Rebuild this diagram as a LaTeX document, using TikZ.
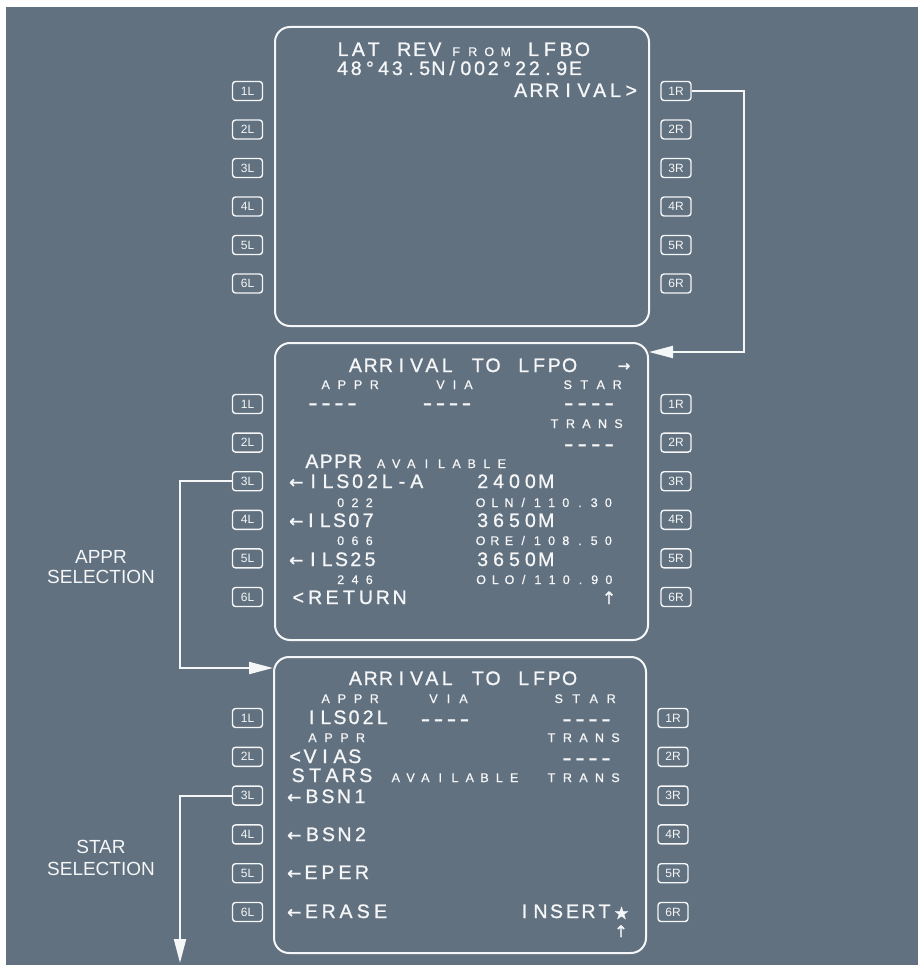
\documentclass[tikz,border=0pt]{standalone}
\usepackage{fontspec}
\usepackage{graphicx}
\setmainfont{Liberation Sans}
\newfontfamily\lcdbigfam[FakeBold=1.1]{Liberation Sans}
\newfontfamily\lcdsmallfam[FakeBold=0.8]{Liberation Sans}
\newfontfamily\symfam[FakeBold=1.5]{DejaVu Sans}
\newcommand\lcdbig{\lcdbigfam\fontsize{19.5}{19.5}\selectfont}
\newcommand\lcdsmall{\lcdsmallfam\fontsize{12.5}{12.5}\selectfont}
\ExplSyntaxOn
\NewDocumentCommand\cellrow{mm}{\str_map_inline:nn {#2} {\makebox[#1pt][c]{##1}}}
\ExplSyntaxOff
\newcommand\lcddash[1]{\makebox[#1pt][c]{\scalebox{1.45}[1.1]{-}}}
\newcommand\dashrow[1]{\lcddash{#1}\lcddash{#1}\lcddash{#1}\lcddash{#1}}
\usetikzlibrary{arrows.meta}
\definecolor{panel}{RGB}{98,113,127}
\definecolor{ink}{RGB}{244,246,248}
\tikzset{
  lcdB/.style={anchor=base, inner sep=0pt, text=ink, font=\lcdbig, text height=14pt, text depth=1pt},
  lcdS/.style={anchor=base, inner sep=0pt, text=ink, font=\lcdsmall, text height=9pt, text depth=0.5pt},
  symb/.style={anchor=base, inner sep=0pt, text=ink, font=\symfam\fontsize{#1}{#1}\selectfont},
  keybox/.style={draw=ink, line width=1.4pt, rounded corners=3pt, minimum width=30pt, minimum height=19pt, inner sep=0pt, text=ink, font=\fontsize{12}{12}\selectfont},
  screen/.style={draw=ink, line width=2pt, rounded corners=15pt, inner sep=0pt},
  conn/.style={draw=ink, line width=2pt, -{Triangle[length=24pt,width=12pt]}},
  lbl/.style={anchor=base, inner sep=0pt, text=ink, font=\fontsize{19}{19}\selectfont}
}
\begin{document}
\begin{tikzpicture}[x=1pt,y=-1pt]
\path[use as bounding box] (0,0) rectangle (918,965);
\fill[white] (0,0) rectangle (918,965);
\fill[panel] (6,7) rectangle (918,965);

% screens
\node[screen, minimum width=374pt, minimum height=299pt] (s1) at (462,176.5) {};
\node[screen, minimum width=373pt, minimum height=297pt] (s2) at (461.5,491.5) {};
\node[screen, minimum width=372pt, minimum height=296pt] (s3) at (460,805) {};

% keys
\foreach \i in {1,...,6} {
  \node[keybox] (aL\i) at (247.5,{91+38.5*(\i-1)}) {\i L};
  \node[keybox] (aR\i) at (676,{91+38.5*(\i-1)}) {\i R};
  \node[keybox] (bL\i) at (247.5,{404+38.6*(\i-1)}) {\i L};
  \node[keybox] (bR\i) at (676,{404+38.6*(\i-1)}) {\i R};
  \node[keybox] (cL\i) at (247.5,{718+38.8*(\i-1)}) {\i L};
  \node[keybox] (cR\i) at (673,{718+38.8*(\i-1)}) {\i R};
}

% screen 1 text
\node[lcdB] (t1a) at (389,56) {\cellrow{15.3}{LAT REV}};
\node[lcdS] (t1b) at (481,56) {\cellrow{16.5}{FROM}};
\node[lcdB] (t1c) at (558,56) {\cellrow{16.3}{LFBO}};
\node[lcdB] (t1d) at (459,75) {\cellrow{13.7}{48°43.5N/002°22.9E}};
\node[lcdB] (t1e) at (576,97) {\cellrow{15.8}{ARRIVAL>}};

% screen 2 text
\node[lcdB] (t2a) at (462.5,372) {\cellrow{15.3}{ARRIVAL TO LFPO}};
\node[symb=15] (t2b) at (624,371) {→};
\node[lcdS] (t2c) at (350,389) {\cellrow{16.2}{APPR}};
\node[lcdS] (t2d) at (454.5,389) {\cellrow{14}{VIA}};
\node[lcdS] (t2e) at (592.5,389) {\cellrow{16.5}{STAR}};
\node[lcdB] (t2f) at (332.5,410) {\dashrow{13}};
\node[lcdB] (t2g) at (447,410) {\dashrow{13}};
\node[lcdB] (t2h) at (589,410) {\dashrow{13.5}};
\node[lcdS] (t2i) at (586.5,428) {\cellrow{16}{TRANS}};
\node[lcdB] (t2j) at (589,451) {\dashrow{13.5}};
\node[lcdB] (t2k) at (333.5,468) {\cellrow{14.4}{APPR}};
\node[lcdS] (t2l) at (441.5,468) {\cellrow{15.1}{AVAILABLE}};
\node[symb=17, anchor=base west] (t2m0) at (289,488) {←};
\node[lcdB] (t2m) at (365,488) {\cellrow{14.8}{ILS02L-A}};
\node[lcdB] (t2n) at (514.5,488) {\cellrow{15.9}{2400M}};
\node[lcdS] (t2o) at (355,507) {\cellrow{14.3}{022}};
\node[lcdS] (t2p) at (544.5,507) {\cellrow{14.2}{OLN/110.30}};
\node[symb=17, anchor=base west] (t2q0) at (289,527) {←};
\node[lcdB] (t2q) at (339.5,527) {\cellrow{14.3}{ILS07}};
\node[lcdB] (t2r) at (514.5,527) {\cellrow{15.9}{3650M}};
\node[lcdS] (t2s) at (355,545) {\cellrow{14.3}{066}};
\node[lcdS] (t2t) at (544.5,545) {\cellrow{14.2}{ORE/108.50}};
\node[symb=17, anchor=base west] (t2u0) at (289,566) {←};
\node[lcdB] (t2u) at (341.5,566) {\cellrow{14.3}{ILS25}};
\node[lcdB] (t2v) at (514.5,566) {\cellrow{15.9}{3650M}};
\node[lcdS] (t2w) at (355,584) {\cellrow{14.3}{246}};
\node[lcdS] (t2x) at (545,584) {\cellrow{14.2}{OLO/110.90}};
\node[lcdB] (t2y) at (349,604) {\cellrow{16.9}{<RETURN}};
\node[symb=17] (t2z) at (609,604) {↑};

% screen 3 text
\node[lcdB] (t3a) at (462.5,685) {\cellrow{15.3}{ARRIVAL TO LFPO}};
\node[lcdS] (t3b) at (350,703) {\cellrow{16.2}{APPR}};
\node[lcdS] (t3c) at (448.5,703) {\cellrow{15}{VIA}};
\node[lcdS] (t3d) at (585,703) {\cellrow{17.5}{STAR}};
\node[lcdB] (t3e) at (347,724) {\cellrow{14.1}{ILS02L}};
\node[lcdB] (t3f) at (445,726) {\dashrow{13}};
\node[lcdB] (t3g) at (586.5,726) {\dashrow{13}};
\node[lcdS] (t3h) at (336.5,742) {\cellrow{16}{APPR}};
\node[lcdS] (t3i) at (583.5,742) {\cellrow{16}{TRANS}};
\node[lcdB] (t3j) at (325,763) {\cellrow{14.9}{<VIAS}};
\node[lcdB] (t3k) at (586.5,765) {\dashrow{13}};
\node[lcdB] (t3l) at (332,782) {\cellrow{16.9}{STARS}};
\node[lcdS] (t3m) at (455,782) {\cellrow{14.8}{AVAILABLE}};
\node[lcdS] (t3n) at (583.5,782) {\cellrow{16}{TRANS}};
\node[symb=17, anchor=base west] (t3o0) at (287,803) {←};
\node[lcdB] (t3o) at (336,803) {\cellrow{16}{BSN1}};
\node[symb=17, anchor=base west] (t3p0) at (287,841) {←};
\node[lcdB] (t3p) at (336.5,841) {\cellrow{16}{BSN2}};
\node[symb=17, anchor=base west] (t3q0) at (287,879) {←};
\node[lcdB] (t3q) at (336.5,879) {\cellrow{17}{EPER}};
\node[symb=17, anchor=base west] (t3r0) at (287,918) {←};
\node[lcdB] (t3r) at (346,918) {\cellrow{17.3}{ERASE}};
\node[lcdB] (t3s) at (564.5,918) {\cellrow{16}{INSERT}};
\node[symb=17] (t3t) at (621.5,919) {★};
\node[symb=16] (t3u) at (621,937) {↑};

% side labels
\node[lbl] (la1) at (101,563) {APPR};
\node[lbl] (la2) at (101,583) {SELECTION};
\node[lbl] (lb1) at (101,853) {STAR};
\node[lbl] (lb2) at (101,875) {SELECTION};

% connectors
\coordinate (r1) at (744,352);
\draw[conn] (aR1.east) -| (r1) -- (s2.east |- r1);
\coordinate (p1) at (180,668);
\draw[conn] (bL3.west) -| (p1) -- (s3.west |- p1);
\coordinate (q1) at (180,963);
\draw[conn] (cL3.west) -| (q1);
\end{tikzpicture}
\end{document}
